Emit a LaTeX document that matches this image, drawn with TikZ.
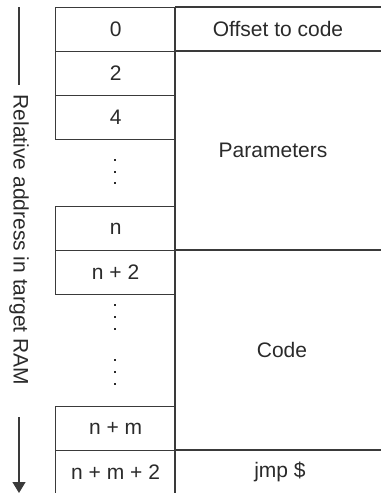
\documentclass[tikz,border=0pt]{standalone}
\usepackage{fontspec}
\setmainfont{Liberation Sans}
\usetikzlibrary{arrows.meta}
\definecolor{ink}{HTML}{2A2A2A}
\definecolor{linec}{HTML}{3A3A3A}
\begin{document}
\begin{tikzpicture}[x=1pt,y=-1pt,
  cell/.style={draw=linec,line width=1.2pt,minimum width=120pt,minimum height=44pt,inner sep=0pt,anchor=north west,text=ink,font=\fontsize{21}{25}\selectfont},
  lbl/.style={text=ink,inner sep=0pt,font=\fontsize{21}{25}\selectfont},
  rule/.style={draw=linec,line width=1.2pt},
  dotm/.style={fill=ink}]
\useasboundingbox (0,0) rectangle (381,493);
% left column cells
\node[cell] (c0) at (55,7) {0};
\node[cell] (c2) at (55,51) {2};
\node[cell] (c4) at (55,95) {4};
\node[cell] (cn) at (55,206) {n};
\node[cell] (cn2) at (55,250) {n + 2};
\node[cell] (cnm) at (55,406) {n + m};
\node[cell] (cnm2) at (55,450) {n + m + 2};
% continuous column divider
\draw[rule] (175,7) -- (175,496);
% right column rules
\draw[rule] (175,7) -- (381,7);
\draw[rule] (175,51) -- (381,51);
\draw[rule] (175,250) -- (381,250);
\draw[rule] (175,450) -- (381,450);
% right column labels
\node[lbl] (off) at (278,29) {Offset to code};
\node[lbl] (par) at (273,150.5) {Parameters};
\node[lbl] (code) at (282,350) {Code};
\node[lbl] (jmp) at (280,472) {jmp \$};
% dots
\foreach \yy in {160,172,183,305,317,329,360,372,384}
  \fill[dotm] (114,\yy-1.1) rectangle (116.2,\yy+1.1);
% side label and arrow
\node[lbl, rotate=-90] (side) at (19,240) {Relative address in target RAM};
\coordinate (atop) at (19,7);
\coordinate (aend) at (19,85);
\coordinate (astart) at (19,417);
\coordinate (abot) at (19,493);
\draw[rule] (atop) -- (aend);
\draw[rule, -{Triangle[width=13pt,length=11pt]}] (astart) -- (abot);
\end{tikzpicture}
\end{document}
